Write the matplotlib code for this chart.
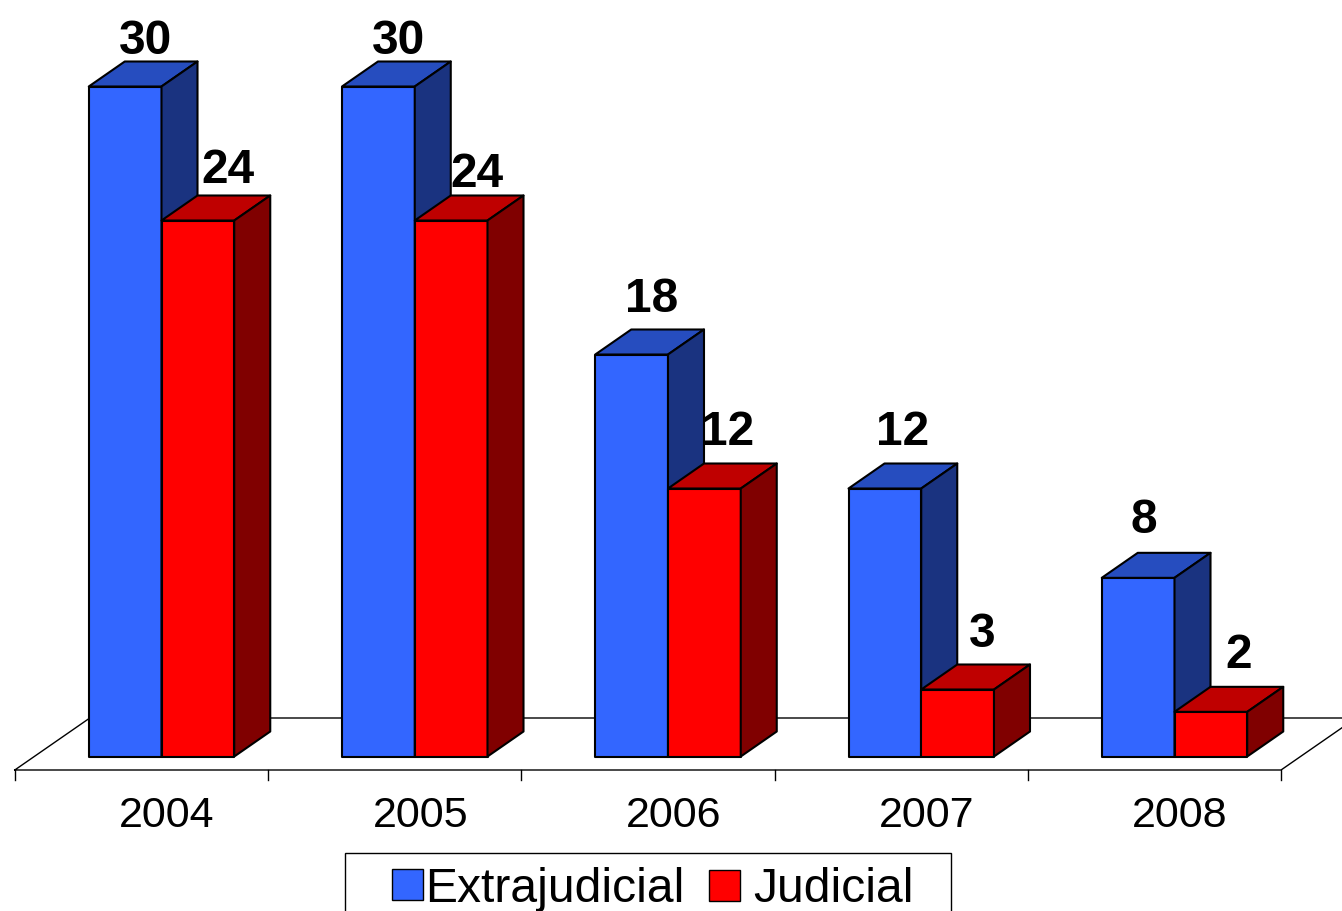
import matplotlib
matplotlib.use("Agg")
import matplotlib.pyplot as plt
from matplotlib.patches import Polygon, Rectangle

plt.rcParams['font.family'] = ['Liberation Sans', 'DejaVu Sans']

years = ['2004', '2005', '2006', '2007', '2008']
extrajudicial = [30, 30, 18, 12, 8]
judicial = [24, 24, 12, 3, 2]
series_names = ['Extrajudicial', 'Judicial']

W, H = 1342, 911
PX_Y = 670 / 30.0
PX_X = 253.25
X0, Y0 = 161.5, 756.5
fig = plt.figure(figsize=(W / 100, H / 100), dpi=100, facecolor='white')
ax = fig.add_axes([0, 0, 1, 1])
ax.set_xlim(-X0 / PX_X, (W - X0) / PX_X)
ax.set_ylim((Y0 - H) / PX_Y, Y0 / PX_Y)
ax.axis('off')

BW = 72.75 / PX_X
DX = 36 / PX_X
DY = 25 / PX_Y
EDGE = dict(edgecolor='black', linewidth=1.5, joinstyle='round')
BLUE = ('#3366FF', '#264DBF', '#1A3380')
RED = ('#FF0000', '#BF0000', '#800000')

# label nudges, in pixels (right, up), matching the hand-placed labels
ext_nudge = [(-16, 45), (-16, 45), (-16, 55), (-19, 56), (-31, 57)]
jud_nudge = [(66, 50), (62, 46), (60, 56), (61, 55), (64, 56)]


def bar3d(x0, v, cols, z):
    ax.add_patch(Rectangle((x0, 0), BW, v, facecolor=cols[0], zorder=z, **EDGE))
    ax.add_patch(Polygon([(x0, v), (x0 + BW, v), (x0 + BW + DX, v + DY), (x0 + DX, v + DY)],
                         closed=True, facecolor=cols[1], zorder=z, **EDGE))
    ax.add_patch(Polygon([(x0 + BW, 0), (x0 + BW + DX, DY), (x0 + BW + DX, v + DY), (x0 + BW, v)],
                         closed=True, facecolor=cols[2], zorder=z, **EDGE))


# floor
fl_y = -13.5 / PX_Y
fl_l = (14.8 - X0) / PX_X
fl_r = fl_l + len(years)
back = 52 / PX_Y
depth = 75 / PX_X
ax.plot([fl_l, fl_r, fl_r + depth, fl_l + depth, fl_l],
        [fl_y, fl_y, fl_y + back, fl_y + back, fl_y],
        color='black', lw=1.0, zorder=1)
for i in range(len(years) + 1):
    xt = fl_l + i
    ax.plot([xt, xt], [fl_y, fl_y - 10 / PX_Y], color='black', lw=1.0, zorder=1)

for i, y in enumerate(years):
    bar3d(i - BW, extrajudicial[i], BLUE, 3 + i)
    bar3d(i, judicial[i], RED, 3 + i + 0.5)
    ax.text(i + 5.5 / PX_X, -59.5 / PX_Y, y, ha='center', va='center', fontsize=31, zorder=20)
    ex, ey = ext_nudge[i]
    jx, jy = jud_nudge[i]
    ax.text(i + ex / PX_X, extrajudicial[i] + ey / PX_Y, str(extrajudicial[i]),
            ha='center', va='center', fontsize=34.5, fontweight='bold', zorder=20)
    ax.text(i + jx / PX_X, judicial[i] + jy / PX_Y, str(judicial[i]),
            ha='center', va='center', fontsize=34.5, fontweight='bold', zorder=20)

# legend
lx0 = (345 - X0) / PX_X
lx1 = (950.5 - X0) / PX_X
ly_top = (Y0 - 853) / PX_Y
ly_bot = (Y0 - 915) / PX_Y
ax.add_patch(Rectangle((lx0, ly_bot), lx1 - lx0, ly_top - ly_bot, facecolor='white',
                       edgecolor='black', linewidth=1.0, zorder=15))
sw = 31 / PX_X
swh = 31 / PX_Y
for px, py, col, name, tx in [(391.5, 899.5, BLUE[0], series_names[0], 425),
                              (708.5, 900.5, RED[0], series_names[1], 753)]:
    ax.add_patch(Rectangle(((px - X0) / PX_X, (Y0 - py) / PX_Y), sw, swh,
                           facecolor=col, edgecolor='black', linewidth=1.0, zorder=16))
    ax.text((tx - X0) / PX_X, (Y0 - 889) / PX_Y, name, ha='left', va='center',
            fontsize=34.6, zorder=16)

fig.savefig('out.png', dpi=100, facecolor='white')
